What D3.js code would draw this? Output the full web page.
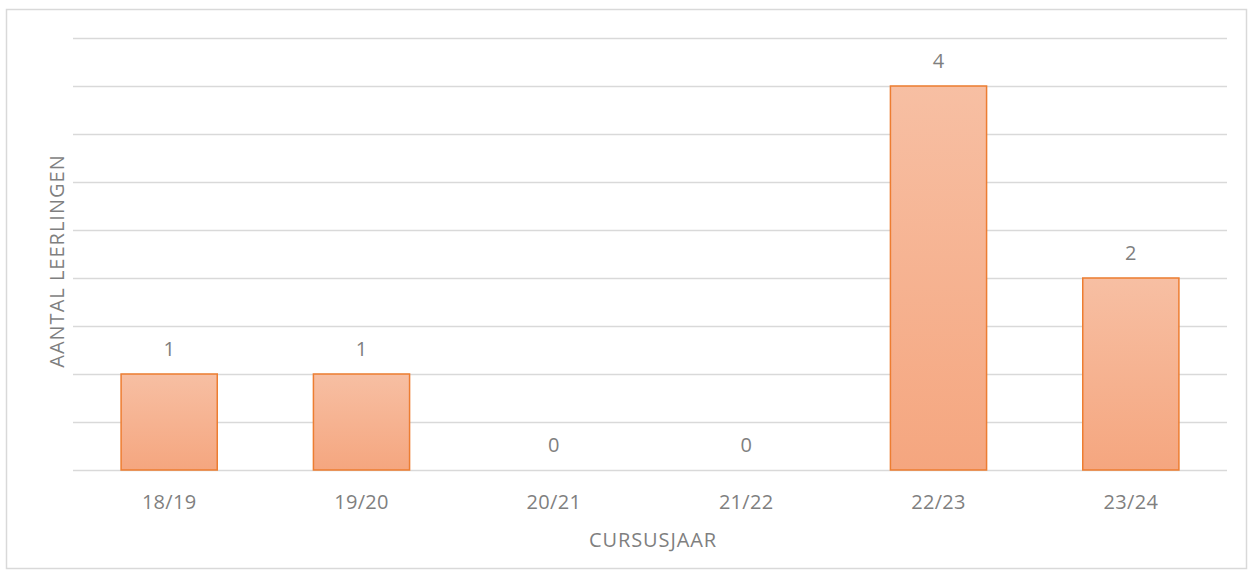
<!DOCTYPE html>
<html>
<head>
<meta charset="utf-8">
<script src="https://cdn.jsdelivr.net/npm/d3@7"></script>
<style>
    body { margin: 0; background: #fff; }
    svg text { font-family: "Open Sans", Lato, sans-serif; fill: #7F7F7F; }
</style>
</head>
<body>
<div id="chart"></div>
<script>
// ========== Data ==========
const categories = ["18/19", "19/20", "20/21", "21/22", "22/23", "23/24"];
const values = [1, 1, 0, 0, 4, 2];
const yTicks = [0, 0.5, 1, 1.5, 2, 2.5, 3, 3.5, 4, 4.5];

const width = 1253, height = 576;
const margin = { top: 38, right: 26, bottom: 106, left: 73 };

const svg = d3.select("#chart")
    .append("svg")
    .attr("width", width)
    .attr("height", height);

// Gradient for bars
const grad = svg.append("defs").append("linearGradient")
    .attr("id", "barFill")
    .attr("x1", 0).attr("y1", 0).attr("x2", 0).attr("y2", 1);
grad.append("stop").attr("offset", "0%").attr("stop-color", "#F7BFA3");
grad.append("stop").attr("offset", "100%").attr("stop-color", "#F5A67F");

// Chart border
svg.append("rect")
    .attr("x", 6.5).attr("y", 9.5)
    .attr("width", 1240).attr("height", 559)
    .attr("fill", "none")
    .attr("stroke", "#D9D9D9")
    .attr("stroke-width", 1.5);

const x = d3.scaleBand()
    .domain(categories)
    .range([margin.left, width - margin.right])
    .paddingInner(0.5)
    .paddingOuter(0.25);

const y = d3.scaleLinear()
    .domain([0, 4.5])
    .range([height - margin.bottom, margin.top]);

// Gridlines
svg.append("g")
    .selectAll("line")
    .data(yTicks)
    .enter().append("line")
    .attr("x1", margin.left)
    .attr("x2", width - margin.right)
    .attr("y1", d => Math.round(y(d)) + 0.5)
    .attr("y2", d => Math.round(y(d)) + 0.5)
    .attr("stroke", "#D9D9D9")
    .attr("stroke-width", 1.5);

// Bars
svg.append("g")
    .selectAll("rect")
    .data(values)
    .enter().append("rect")
    .attr("x", (d, i) => x(categories[i]))
    .attr("y", d => y(d))
    .attr("width", x.bandwidth())
    .attr("height", d => y(0) - y(d))
    .attr("fill", "url(#barFill)")
    .attr("stroke", d => d > 0 ? "#ED7D31" : "none")
    .attr("stroke-width", 1.5);

// Value labels
svg.append("g")
    .selectAll("text")
    .data(values)
    .enter().append("text")
    .attr("x", (d, i) => x(categories[i]) + x.bandwidth() / 2)
    .attr("y", d => y(d) - 18)
    .attr("text-anchor", "middle")
    .attr("font-size", "20px")
    .text(d => d);

// X axis labels
const xAxis = svg.append("g")
    .attr("transform", `translate(0,${y(0)})`)
    .call(d3.axisBottom(x).tickSize(0).tickPadding(0));
xAxis.attr("font-family", null).attr("font-size", null);
xAxis.select(".domain").remove();
xAxis.selectAll("text")
    .attr("y", 39)
    .attr("dy", 0)
    .attr("font-size", "20px")
    .attr("letter-spacing", "0.3px");

// Axis titles
svg.append("text")
    .attr("x", (margin.left + width - margin.right) / 2 + 3)
    .attr("y", 547)
    .attr("text-anchor", "middle")
    .attr("font-size", "20px")
    .attr("letter-spacing", "0.9px")
    .text("CURSUSJAAR");

svg.append("text")
    .attr("transform", `translate(64,261) rotate(-90)`)
    .attr("text-anchor", "middle")
    .attr("font-size", "20px")
    .attr("letter-spacing", "1px")
    .text("AANTAL LEERLINGEN");
</script>
</body>
</html>
